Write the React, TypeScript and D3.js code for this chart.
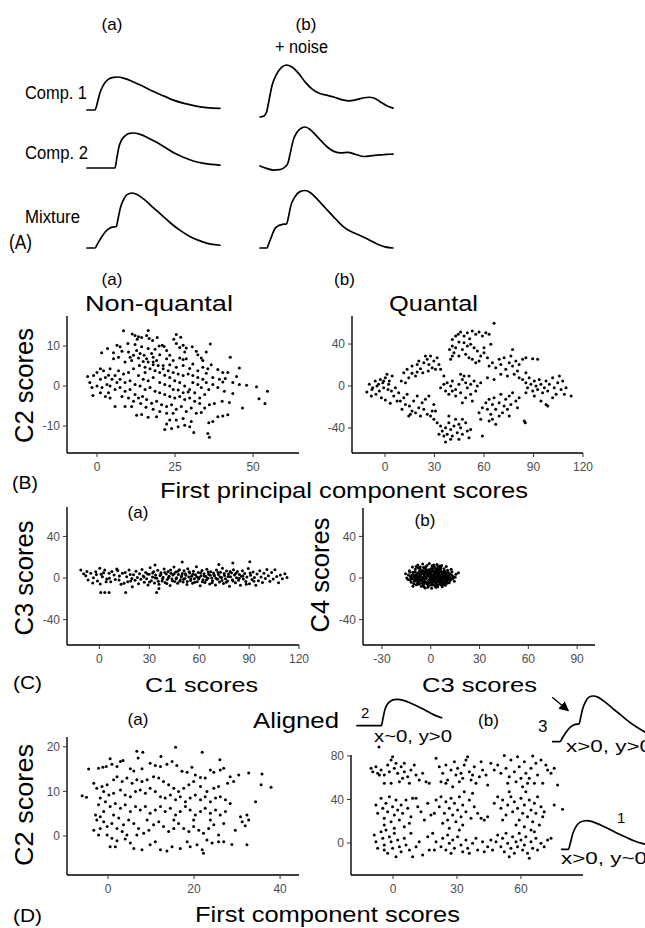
import React from 'react';
import * as d3 from 'd3';

type P = [number, number];
const parse = (s: string): P[] =>
  s.trim().split(/\s+/).map((p) => p.split(',').map(Number) as P);

// ---- Panel A traces: [time (% of window), normalised amplitude] ----
const comp1A: P[] = [[0,0],[6,0],[8,0.25],[10,0.55],[13,0.8],[16,0.93],[20,0.99],[23,1.0],[28,0.96],[35,0.85],[42,0.72],[50,0.56],[58,0.42],[65,0.3],[73,0.2],[82,0.12],[90,0.07],[100,0.05]];
const comp2A: P[] = [[0,0],[21,0],[22.5,0.3],[24,0.6],[26,0.8],[29,0.93],[32,0.99],[35,1.0],[40,0.96],[46,0.86],[53,0.72],[60,0.56],[66,0.42],[73,0.3],[80,0.2],[88,0.13],[100,0.08]];
const mixA: P[] = [[0,0],[6,0],[8,0.08],[11,0.2],[14,0.3],[17,0.36],[19,0.38],[22,0.39],[23.5,0.55],[25,0.72],[27.5,0.88],[30,0.97],[34,1.0],[38,0.97],[44,0.86],[50,0.73],[57,0.58],[63,0.45],[70,0.32],[78,0.2],[86,0.12],[93,0.07],[100,0.05]];
const comp1B: P[] = [[0,0],[3,0.02],[5,0.1],[7,0.35],[9,0.6],[12,0.8],[16,0.95],[20,1.0],[24,0.96],[29,0.84],[34,0.67],[39,0.54],[44,0.46],[50,0.42],[56,0.38],[62,0.33],[67,0.31],[72,0.33],[78,0.37],[82,0.38],[86,0.36],[90,0.3],[95,0.22],[100,0.17]];
const comp2B: P[] = [[0,0.05],[5,-0.01],[10,-0.05],[15,-0.04],[19,0.03],[21,0.12],[23,0.4],[25,0.68],[28,0.88],[31,0.97],[34,1.0],[38,0.93],[42,0.8],[46,0.66],[51,0.5],[56,0.4],[61,0.37],[66,0.38],[72,0.33],[78,0.28],[84,0.3],[90,0.32],[95,0.33],[100,0.34]];
const mixB: P[] = [[0,0],[5,0],[7,0.1],[9,0.22],[11,0.33],[14,0.39],[17,0.41],[20,0.42],[21.5,0.55],[23,0.72],[26,0.88],[30,0.98],[34,1.0],[38,0.96],[43,0.85],[49,0.7],[55,0.55],[60,0.43],[65,0.33],[70,0.27],[76,0.21],[82,0.14],[88,0.07],[94,0.02],[100,0]];

// ---- Scatter data ----
const nonQuantal = parse(`8.5,13.8 16.4,13.9 11.3,13.0 12.2,12.6 13.3,12.3 14.3,12.1 12.9,11.7 15.9,12.6 16.7,11.9 17.8,11.4 19.3,12.1 25.4,12.9 24.6,11.7 26.8,12.2 36.3,10.5 30.5,9.8 20.9,10.2 21.5,9.9 19.9,10.0 18.6,9.2 16.4,9.4 14.3,9.8 12.2,10.4 9.9,10.6 6.4,10.2 7.4,9.8 3.4,9.4 1.5,8.3 5.3,8.3 8.0,8.7 10.1,8.5 12.7,8.9 15.1,7.7 17.5,8.1 22.3,8.9 26.5,9.6 28.1,8.5 23.3,7.7 26.5,7.0 27.6,6.6 28.6,6.8 32.3,7.8 33.4,7.0 33.9,6.4 42.7,7.2 36.6,5.3 35.5,4.3 38.7,4.1 40.3,3.4 41.9,3.4 45.6,4.5 44.7,2.4 5.3,6.8 6.9,7.2 9.0,6.0 11.1,6.4 13.3,7.0 15.9,6.8 18.0,6.0 19.1,6.4 21.2,5.1 23.3,5.3 25.4,4.7 27.6,5.1 29.7,4.4 30.7,5.5 32.3,3.8 33.9,4.7 35.0,3.2 37.1,2.1 39.2,1.7 40.3,1.0 41.1,1.9 43.5,0.9 45.6,0.4 47.9,0.2 51.1,-0.2 54.6,-1.3 51.9,-3.2 53.8,-4.4 46.6,-5.5 42.4,-4.1 43.5,-1.9 40.1,-3.8 40.8,-1.3 38.7,-0.4 37.1,0.4 35.8,-0.9 34.5,-2.1 32.9,-3.0 31.3,-1.7 29.7,-0.9 28.1,0.0 26.5,0.9 24.9,1.3 23.3,2.1 21.7,2.7 20.1,3.4 18.6,3.8 17.0,4.3 15.4,4.7 13.6,5.1 11.7,4.3 10.1,3.4 8.5,3.0 6.9,3.8 4.2,4.3 2.1,3.8 1.1,4.3 0.0,3.4 -1.1,2.6 -3.0,2.4 -2.3,0.9 -1.6,-0.4 -1.3,-2.4 0.0,0.0 1.1,1.7 2.7,2.1 3.7,2.7 4.8,1.7 6.4,0.9 7.4,-0.4 9.0,-1.3 10.6,-0.9 12.2,-2.1 13.3,-3.0 14.6,-2.6 15.9,-3.4 17.5,-4.3 19.1,-3.8 20.7,-4.7 22.3,-5.1 23.9,-4.7 25.4,-5.8 27.0,-5.1 28.6,-6.4 30.2,-5.5 31.8,-6.8 33.4,-6.6 34.5,-5.5 36.0,-4.7 37.6,-4.4 38.7,-7.7 40.3,-7.5 41.9,-7.2 37.1,-8.9 35.8,-9.2 31.0,-11.6 35.5,-11.9 36.0,-12.8 29.7,-10.2 30.2,-8.9 28.1,-9.8 26.0,-10.2 23.9,-10.6 21.7,-10.9 22.3,-9.5 23.3,-8.5 25.4,-8.5 27.6,-8.1 19.1,-7.7 16.4,-7.8 14.3,-7.1 12.7,-7.3 11.1,-5.1 9.0,-5.1 5.8,-5.1 4.2,-3.0 2.7,-2.6 1.1,-1.7 3.7,-1.7 5.8,-0.9 8.0,-2.6 10.1,-3.0 11.7,-3.8 14.0,-4.4 15.7,-5.3 18.0,-5.8 20.1,-6.4 22.3,-6.8 24.4,-6.8 17.0,-0.4 18.6,-1.3 20.1,-1.7 21.7,-2.1 23.3,-2.6 24.9,-3.0 26.5,-2.6 28.1,-3.4 29.7,-3.0 31.3,-3.8 32.9,-4.4 20.1,0.9 21.7,0.4 23.3,0.0 24.4,-0.9 26.0,-1.0 27.6,-1.7 29.2,-1.5 30.7,0.9 32.3,0.4 33.4,-0.4 35.0,0.9 33.9,1.7 32.3,2.1 30.7,2.6 29.2,3.0 27.6,2.6 26.0,3.0 24.4,3.4 22.8,3.8 21.2,4.3 19.6,5.1 18.0,5.3 16.4,6.0 14.8,6.1 13.3,2.6 14.8,1.7 16.4,1.3 18.0,2.1 15.4,3.4 13.8,0.0 15.4,-0.9 12.2,0.4 10.6,1.3 9.0,0.9 7.4,1.7 5.8,2.6 3.2,0.4 1.6,-0.4 4.2,0.0 11.7,7.7 13.8,8.1 10.6,7.2 18.0,7.2 20.1,7.8 22.3,6.8 24.4,6.4 25.4,10.6 27.6,10.2 28.6,9.5 31.8,8.7 35.0,8.5`);

const quantal = parse(`-11.0,-5.7 -9.5,1.6 -7.5,-1.6 -5.9,4.8 -4.9,0 -2.8,6.3 -1.4,3.2 0.2,7.9 1.2,11.1 2.6,4.8 4.3,9.5 -8.3,-9.5 -5.5,-7.9 -3.4,-4.8 -0.8,-1.6 1.8,-3.2 3.9,-4.8 -2.2,-11.1 0.2,-13.3 6.3,-1.6 8.3,-6.3 5.3,-9.5 -7.9,-3.2 -3.9,1.6 -0.8,4.8 2.2,1.6 7.3,-14.3 3.2,-16.5
11.4,12.7 13.4,15.9 16.4,19.0 19.5,20.6 21.5,16.5 23.5,22.2 25.6,25.4 27.6,28.6 29.6,23.8 31.6,27.0 32.7,20.6 28.6,17.5 26.2,14.3 22.9,12.7 19.5,13.3 16.4,12.1 14.4,7.9 18.5,9.5 30.6,15.9 33.7,15.9 40.8,28.6 39.1,34.9 41.8,31.7 35.7,9.5 26.6,20.6 24.5,28.6 20.5,23.8 9.9,4.8 12.4,3.2
9.3,-14.3 11.4,-11.1 12.4,-17.5 14.8,-19.0 16.4,-23.8 15.4,-27.0 18.5,-25.4 20.5,-20.6 22.5,-15.9 23.5,-22.2 21.5,-28.6 24.5,-12.7 13.4,-7.9 17.4,-14.3 26.6,-9.5 19.5,-9.5 25.6,-27.0 28.6,-23.8 29.6,-17.5 14.4,-28.6 10.3,-22.2
40.8,44.4 42.8,47.6 44.4,49.2 45.8,51.4 47.9,47.6 49.9,50.8 51.3,45.1 52.9,52.4 55.0,49.2 57.0,51.4 59.0,47.6 61.1,50.8 63.1,49.2 66.1,59.7 47.9,41.3 49.9,38.1 51.9,39.7 54.0,36.5 56.0,33.3 58.0,28.6 60.0,31.7 40.8,38.1 42.8,36.5 44.8,41.9 46.9,34.9 48.9,30.2 50.9,27.0 52.9,25.4 55.0,22.2 57.0,23.8 60.0,36.5 64.1,39.7 62.1,27.0 39.8,25.4 44.8,28.6
33.7,-1.6 35.7,1.6 37.7,3.2 39.8,0 40.8,4.8 42.8,-3.2 44.8,1.6 46.9,6.3 48.9,3.2 49.9,-1.6 51.9,1.6 54.0,4.8 56.0,0 47.9,9.5 45.8,11.1 40.8,-4.8 38.7,-7.9 42.8,-9.5 45.8,-6.3 48.9,-11.1 51.9,-7.9 55.0,-4.8 36.7,-4.8 52.9,-14.3 46.9,-15.9 50.9,9.5 58.0,3.2
27.6,-28.6 29.6,-31.7 31.6,-34.9 33.7,-38.1 34.7,-42.9 36.7,-39.7 37.7,-46.0 38.7,-34.9 39.8,-41.3 40.8,-47.6 41.8,-38.1 42.8,-31.7 43.8,-44.4 44.8,-50.8 45.8,-39.7 46.9,-46.0 48.9,-34.9 49.9,-42.9 50.9,-49.2 51.9,-41.3 35.7,-47.6 32.7,-46.0 36.7,-53.3 39.8,-50.8 44.8,-36.5 46.9,-31.7 38.7,-28.6 30.6,-23.8 59.0,-47.6
63.1,19.0 65.1,22.2 67.1,17.5 69.2,25.4 70.2,20.6 72.2,27.0 73.2,15.9 75.3,22.2 76.3,28.6 77.3,19.0 79.3,23.8 80.3,14.3 81.3,20.6 83.4,25.4 85.4,27.0 89.5,26.0 92.5,25.4 78.3,11.1 74.2,9.5 70.2,11.1 66.1,6.3 62.1,7.9 77.3,34.9 85.4,12.7 81.3,7.9
57.0,-25.4 59.0,-20.6 61.1,-15.9 62.1,-22.2 63.1,-12.7 64.1,-27.0 65.1,-17.5 66.1,-11.1 67.1,-22.2 69.2,-15.9 70.2,-7.9 71.2,-25.4 72.2,-19.0 73.2,-12.7 74.2,-22.2 75.3,-9.5 76.3,-17.5 77.3,-6.3 79.3,-14.3 80.3,-20.6 81.3,-11.1 63.1,-33.3 65.1,-31.7 67.1,-36.5 58.0,-31.7 84.4,-33.3 85.0,-34.9 75.3,-28.6 69.2,-28.6
83.4,6.3 85.4,3.2 86.4,-1.6 87.4,7.9 88.4,1.6 89.5,-4.8 90.5,4.8 91.5,0 92.5,-3.2 93.5,6.3 94.5,1.6 95.5,-6.3 96.6,-1.6 97.6,4.8 98.6,-4.8 99.6,1.6 101.6,7.9 102.6,-1.6 103.7,-7.9 104.7,3.2 105.7,9.5 106.7,-3.2 107.7,4.8 109.7,-1.6 112.8,-9.5 108.7,-7.9 97.6,-17.5 98.6,-19.0 90.5,-9.5 85.4,-6.3 94.5,-14.3 101.6,-11.1`);

const c1Scores = parse(`-11.2,7.7 -8.2,2.3 -6.8,-1.9 -5.2,4.5 -3.6,0.3 -2.2,6.1 -1.2,-2.9 0.2,9.3 1.8,1.3 3.2,7.7 4.4,-1.0 5.8,4.5 6.8,-3.5 8.8,2.9 10.4,8.7 11.8,-1.9 13.8,4.5 14.8,-5.1 16.4,1.3 17.8,7.7 18.8,-2.9 19.8,-8.4 0.8,-13.8 3.2,-13.8 5.8,-13.8 15.8,-13.8 34.4,-13.8 35.8,-10.0 49.8,15.4 90.4,15.6 71.8,13.1 80.2,14.4 33.4,12.5
20.5,3.2 21.4,-2.1 22.0,6.5 22.8,0.4 23.5,-5.5 24.1,4.0 24.9,-1.2 25.6,8.1 26.3,2.0 27.0,-4.0 27.8,5.3 28.4,-0.6 29.2,-6.8 29.9,3.6 30.5,9.8 31.2,-2.5 31.9,1.1 32.6,6.0 33.1,-4.7 33.8,3.0
34.5,-0.2 35.1,7.4 35.8,-6.0 36.4,2.4 37.0,5.0 37.7,-2.8 38.3,0.8 38.9,8.6 39.5,-4.4 40.2,3.9 40.8,-1.5 41.3,6.2 41.9,1.6 42.5,-7.2 43.0,4.6 43.6,-0.9 44.2,2.8 44.8,10.5 45.3,-3.3 45.9,5.7 46.4,0.2 47.0,-5.1 47.5,3.4 48.1,7.9 48.6,-1.9 49.2,1.0 49.8,4.4 50.3,-3.9
50.9,6.9 51.4,-0.5 52.0,2.6 52.6,-6.2 53.1,9.0 53.7,0.9 54.3,4.8 54.8,-2.4 55.4,1.7 56.0,-5.0 56.5,6.4 57.1,-0.8 57.7,3.1 58.3,10.9 58.8,-3.6 59.4,5.3 60.0,0.5 60.6,-7.5 61.1,2.2 61.7,7.2 62.3,-1.6 62.9,4.1 63.4,-4.3 64.0,1.4 64.6,8.5 65.2,-0.3 65.7,3.7 66.3,-5.8 66.9,6.0 67.5,0.0 68.0,-2.7 68.6,4.9 69.2,1.9
69.8,-6.6 70.4,7.7 71.0,-1.1 71.6,3.3 72.2,-3.8 72.8,5.6 73.4,0.6 74.0,9.4 74.6,-5.3 75.2,2.5 75.8,-0.7 76.4,6.7 77.0,-2.9 77.6,3.9 78.2,-7.8 78.8,1.2 79.4,5.0 80.0,-1.7 80.6,8.0 81.2,2.9 81.8,-4.6 82.4,0.3 83.0,6.3 83.6,-2.2 84.2,3.5 84.8,-6.9 85.4,1.8
86.0,7.0 86.6,-0.9 87.3,4.3 88.0,-3.4 88.7,1.0 89.5,9.2 90.2,-5.6 90.9,2.7 91.7,-1.4 92.4,5.8 93.2,0.4 94.0,-7.0 94.8,3.8 95.6,-2.6 96.4,6.9 97.2,0.9 98.0,-4.2 98.9,4.6 99.8,-0.5 100.7,8.3 101.6,2.1 102.5,-3.2 103.5,5.2 104.5,-1.0 105.5,7.9 106.6,1.5 107.7,-4.5 108.8,3.0 110.0,-0.8 111.5,4.0 112.8,0.6
26.8,0.9 28.9,3.9 30.1,-3.8 32.0,4.9 33.5,0.2 35.4,-3.1 36.9,3.3 38.0,-0.8 39.3,5.4 40.5,-5.3 41.6,0.4 42.8,7.8 43.9,-2.6 44.9,4.1 46.1,-0.6 47.2,6.6 48.3,-3.0 49.5,2.3 50.6,-1.2 51.7,4.2 52.8,-3.3 53.9,6.1 55.0,-0.9 56.2,3.7 57.3,-4.1 58.5,1.3 59.6,-1.0 60.8,5.0 61.9,-3.6 63.1,2.0 64.3,-2.0 65.4,5.9 66.6,2.6 67.8,-4.6 68.9,3.2 70.1,-0.2 71.3,5.2 72.5,1.0 73.7,-2.3 75.0,4.4 76.2,-4.0 77.4,1.5 78.6,6.2 80.3,-2.9 82.1,4.7 84.0,-0.3 86.3,2.0 88.3,-5.9 90.6,4.9 92.9,-3.0
-9.5,4.0 -7.5,6.3 -4.0,-4.8 -1.8,3.4 0.5,-5.8 2.5,5.0 4.0,-3.5 7.5,6.2 9.5,-1.4 12.0,2.0 13.0,-6.0 15.5,5.4 17.0,-3.5 18.5,3.5 19.5,-0.5 11.0,7.2 6.0,-0.3 1.0,3.6`);

const c3Scores = parse(`-15.5,4.2 -14.0,-1.5 -13.2,7.0 -12.5,1.8 -12.0,-4.0 -11.3,10.5 -10.8,3.5 -10.2,-2.2 -9.6,6.0 -9.0,-6.5 -8.5,0.5 -8.0,12.5 -7.6,4.8 -7.1,-3.3 -6.6,8.5 -6.2,1.0 -5.8,-8.0 -5.3,5.5 -4.9,-1.0 -4.5,10.0 -4.0,3.0 -3.6,-5.0 -3.1,7.5 -2.7,-0.5 -2.3,12.0 -1.8,2.0 -1.4,-7.5 -1.0,5.0 -0.5,-2.5 0.0,9.0 0.4,0.5 0.9,-5.5 1.3,6.5 1.8,-1.0 2.2,11.0 2.7,3.5 3.1,-9.0 3.6,4.0 4.0,-3.0 4.5,8.0 4.9,1.5 5.4,-6.0 5.8,6.0 6.3,-0.8 6.7,12.0 7.2,2.5 7.6,-4.5 8.1,9.0 8.5,0.0 9.0,-7.0 9.4,5.0 9.9,-2.0 10.3,7.5 10.8,1.0 11.3,-4.5 11.8,4.0 12.4,-1.5 13.0,6.0 13.8,1.5 14.5,-3.0 15.5,3.5 17.0,5.0
-13.8,3.0 -11.6,-0.8 -9.8,2.2 -8.2,-4.8 -7.0,6.5 -5.5,-3.0 -4.2,1.2 -3.0,4.5 -2.0,-3.5 -0.8,1.5 0.3,-1.2 1.2,3.0 2.4,-3.8 3.5,1.0 4.6,-1.5 5.6,3.0 6.8,-2.5 8.0,4.5 9.2,-0.5 10.5,3.0 11.8,-2.5 -6.0,-1.8 -1.5,8.0 3.0,7.0 7.0,-8.5 -3.5,-9.5 0.5,-9.8 -9.5,8.5 12.5,8.5 -12.8,5.5 -10.5,-5.5 -6.8,3.2 -2.5,5.8 1.6,0.2 5.0,5.0 8.8,1.8 -4.6,-6.8 2.0,-6.5 6.0,9.5 -7.8,9.8 10.0,-5.0 -0.2,3.8 4.2,-8.5 -8.8,-1.5 13.5,-0.5 15.0,0.8 -14.8,0.0 3.8,13.0 -1.0,14.0 -5.0,13.5 9.5,11.0 -11.0,-8.0
-9.2,0.8 -8.6,4.0 -7.4,-1.2 -6.4,2.0 -5.7,6.8 -5.1,-5.2 -4.4,3.8 -3.8,-2.0 -3.3,9.2 -2.8,1.0 -2.1,-6.0 -1.6,4.2 -1.1,-1.8 -0.6,6.8 -0.1,-4.0 0.6,2.2 1.0,9.5 1.5,-3.0 2.0,4.8 2.5,-0.5 2.9,8.8 3.3,-5.2 3.9,2.0 4.3,10.5 4.8,-3.8 5.2,2.2 5.7,-2.0 6.1,7.2 6.5,0.8 7.0,-5.8 7.4,5.5 7.9,-1.0 8.3,7.0 8.7,-3.5 9.1,3.5 9.6,0.5 10.1,-2.8 10.6,5.5 11.1,1.8 -10.0,-3.0 -8.0,1.8 -6.0,5.0 -4.0,-3.8 -2.0,3.0 0.0,-6.8 2.0,1.5 4.0,5.8 6.0,-4.0 8.0,-6.5 -11.8,2.5 -12.8,-2.0 12.0,0.5 -9.0,11.0 0.8,11.8 -6.5,10.5 5.5,11.5
-8.3,-2.5 -7.2,0.2 -6.9,-5.5 -5.9,3.5 -5.0,0.2 -4.7,7.2 -3.9,5.8 -3.4,-0.8 -2.9,-4.2 -2.4,2.2 -1.9,6.2 -1.2,-4.8 -0.7,3.0 -0.3,-0.2 0.2,5.2 0.7,-2.2 1.1,7.8 1.4,-6.8 1.9,2.8 2.3,-2.0 2.8,6.0 3.2,-0.8 3.7,8.6 4.1,-6.8 4.6,3.2 5.1,-0.2 5.5,8.8 6.0,1.8 6.4,-6.5 6.9,4.2 7.3,-2.2 7.8,1.2 8.2,-5.0 8.7,5.8 9.3,-1.8 9.8,2.2 10.4,-1.0 10.9,4.0 -10.5,1.0 -9.8,-1.2 -9.0,3.2 -7.8,-6.0 -11.0,5.5 -12.2,0.5 11.5,-1.0 12.8,3.0 -4.2,-8.5 3.0,-8.0 -1.8,-9.0 6.2,10.8 -3.0,11.0 1.8,12.5`);

const alignedNQ = parse(`-6.0,9.0 -5.0,8.7 -4.5,15.0 -2.2,15.2 -1.2,15.4 -0.4,15.6 0.5,17.3 0.9,16.1 2.1,15.6 2.9,16.7 3.5,16.9 6.7,19.0 8.1,18.8 7.0,17.5 12.3,17.8 15.7,19.9 21.9,18.8 26.0,17.1 5.2,15.1 6.0,14.6 7.9,15.1 9.8,16.3 11.0,15.8 12.2,15.6 13.7,16.1 14.9,16.7 16.0,15.8 17.2,14.5 18.4,14.3 19.5,15.4 20.3,13.7 21.5,13.1 22.6,13.0 23.8,14.8 24.6,14.3 26.1,14.8 26.9,15.2 28.4,13.3 30.4,13.7 32.7,14.1 35.8,13.9 35.6,11.5 37.9,10.9 34.3,7.7 29.2,12.2 27.8,11.8 25.7,11.1 24.6,10.7 23.0,10.0 21.5,11.1 19.9,12.2 18.8,11.5 17.6,10.7 16.4,10.0 15.3,10.7 14.1,11.5 12.9,12.2 11.8,13.0 10.6,13.3 9.1,12.6 7.9,12.2 6.7,12.6 5.6,11.8 4.4,13.0 3.3,12.2 2.1,13.3 1.3,12.6 -0.2,11.5 -1.4,11.1 -2.6,10.7 -3.3,11.8 -1.0,10.0 0.2,9.2 1.3,9.6 2.9,10.3 4.0,9.2 5.2,8.8 6.4,10.0 7.5,10.3 8.7,9.6 9.8,10.7 11.0,10.0 12.2,8.8 13.3,8.5 14.5,9.2 15.7,8.1 16.8,8.8 18.0,7.7 19.1,8.5 20.3,9.2 21.5,8.1 22.6,8.8 23.8,7.7 25.0,8.5 26.1,8.8 27.3,8.1 28.4,7.3 -1.8,8.5 -2.2,7.0 -0.6,7.7 0.5,6.6 1.7,7.3 2.9,6.2 4.0,7.0 5.2,5.5 6.4,6.6 7.5,5.8 8.7,6.6 9.8,5.1 11.0,5.8 12.2,6.6 13.3,5.5 14.5,6.2 15.7,4.7 16.8,5.5 18.0,6.6 19.1,5.8 20.3,4.7 21.5,5.5 22.6,6.2 23.8,5.1 25.0,5.8 26.1,4.7 27.3,5.5 30.8,4.3 32.3,4.7 32.7,3.6 31.2,3.2 31.9,2.3 -2.9,4.7 -2.6,3.6 -1.8,4.3 -1.0,3.2 -0.2,2.1 0.9,2.8 2.1,1.7 3.3,1.0 4.4,0.2 3.6,2.5 4.8,3.6 6.0,2.8 7.1,1.7 8.3,0.6 9.5,1.3 10.6,2.5 11.8,3.2 12.9,2.1 14.1,1.0 15.3,1.7 16.4,2.8 17.6,1.7 18.8,1.0 19.9,2.1 21.1,1.3 22.2,0.6 23.4,1.7 24.6,2.5 25.7,0.2 26.9,-1.3 28.8,-1.9 32.3,-2.0 29.6,1.3 -0.2,0.2 0.9,-0.5 2.1,-1.1 4.0,-0.7 5.2,-1.6 6.7,0.2 7.9,-3.1 9.8,-2.0 11.0,-1.3 13.7,-3.4 14.9,-2.4 16.8,-2.8 18.4,-1.3 19.1,-2.4 20.7,-2.0 21.9,-3.1 22.2,-3.9 23.0,-0.9 24.2,-1.6 25.7,-1.3 1.7,-2.4 0.5,-2.4 6.0,-2.8 12.2,-3.1 -1.8,1.7 -3.3,1.3 -2.2,0.2 -1.0,5.5 1.3,4.7 2.5,4.0 9.1,3.6 15.3,3.6 19.9,3.6 23.8,3.6 26.9,2.8`);

const alignedQ = parse(`-10.3,68.7 -9.5,65.6 -8.0,70.2 -7.2,64.1 -5.6,67.2 -4.1,62.6 -2.5,71.8 -0.9,76.4 -0.2,79.4 0.6,68.7 1.4,73.3 2.2,64.1 3.8,70.2 4.5,59.5 5.3,65.6 6.9,61.0 8.4,67.2 10.0,71.8 10.8,62.6 12.3,58.0 13.9,64.1 15.5,56.4 17.0,54.9 -4.1,54.9 -0.9,54.9 3.0,56.4 7.7,54.9 -6.4,62.6 -1.7,65.6 5.3,73.3
20.2,77.9 21.7,70.2 23.3,64.1 24.8,71.8 25.6,58.0 27.2,67.2 28.8,74.8 29.5,62.6 30.3,68.7 31.1,56.4 31.9,64.1 33.4,71.8 34.2,76.4 35.0,79.4 35.8,65.6 36.6,58.0 38.1,70.2 38.9,54.9 40.5,61.0 42.0,67.2 43.6,62.6 44.4,53.4 45.9,73.3 24.8,54.9 28.0,51.8 22.5,56.4 32.7,59.5 37.3,62.6 41.3,74.8
47.5,67.2 49.1,71.8 50.6,64.1 52.2,80.5 53.0,68.7 54.5,61.0 55.3,76.4 56.9,65.6 57.7,56.4 58.4,79.4 59.2,70.2 60.0,59.5 61.6,74.8 62.3,64.1 63.1,54.9 64.7,68.7 65.5,80.0 67.0,73.3 67.8,62.6 69.4,76.4 70.2,54.9 71.7,71.8 72.5,67.2 74.1,64.1 75.6,68.7 77.2,53.4 63.9,59.5 53.8,54.9 60.8,51.8 66.3,54.9
-8.0,35.0 -7.2,27.3 -5.6,41.1 -4.8,31.9 -4.1,22.7 -3.3,36.5 -2.5,28.8 -1.7,42.6 -0.9,19.6 -0.2,33.4 0.6,25.8 1.4,39.6 2.2,30.4 3.0,21.2 3.8,35.0 4.5,27.3 5.3,15.0 6.1,39.6 6.9,31.9 8.4,24.2 9.2,41.1 10.8,41.1 11.6,33.4 13.1,28.8 14.7,21.2 16.3,36.5 -4.1,16.6 0.6,13.5 7.7,18.1 17.8,25.8
20.2,39.6 21.7,33.4 22.5,42.6 24.1,27.3 24.8,38.0 25.6,21.2 26.4,31.9 27.2,41.1 28.0,25.8 28.8,36.5 29.5,19.6 30.3,30.4 31.1,42.6 31.9,24.2 32.7,35.0 33.4,47.2 34.2,28.8 35.8,39.6 36.6,22.7 38.1,33.4 39.7,27.3 41.3,22.7 42.8,21.2 44.4,24.2 23.3,18.1 26.4,13.5 32.7,16.6 37.3,45.7 19.4,27.3
47.5,36.5 49.1,42.6 50.6,31.9 51.4,39.6 53.0,25.8 53.8,35.0 55.3,42.6 56.1,28.8 56.9,38.0 58.4,31.9 59.2,21.2 60.0,41.1 60.8,27.3 61.6,35.0 62.3,47.2 63.1,24.2 63.9,39.6 64.7,30.4 65.5,19.6 66.3,36.5 67.0,27.3 67.8,42.6 68.6,16.6 69.4,33.4 70.2,24.2 70.9,28.8 57.7,16.6 61.6,15.0 64.7,12.0 75.6,35.0 79.5,31.0 51.4,21.2 54.5,47.2
-8.8,7.4 -8.0,1.2 -7.2,-4.9 -5.6,10.4 -4.8,4.3 -4.1,-1.8 -3.3,12.0 -2.5,-9.5 -1.7,5.8 -0.9,1.2 -0.2,-4.9 0.6,8.9 1.4,-12.6 2.2,2.8 3.0,-3.4 3.8,-8.0 5.3,4.3 6.1,-1.8 7.7,-6.4 9.2,-12.6 10.8,-3.4 12.3,1.2 13.9,-11.0 16.3,5.8 17.0,-6.4 8.4,8.9 -4.1,-6.4
18.6,8.9 20.2,1.2 22.5,-3.4 23.3,4.3 24.8,-6.4 25.6,7.4 26.4,-0.3 27.2,-9.5 28.0,2.8 28.8,-4.9 30.3,5.8 31.9,-1.8 32.7,-8.0 34.2,2.8 35.0,-4.9 37.3,-0.3 38.9,4.3 39.7,-6.4 42.0,1.2 44.4,-3.4 45.9,2.8 19.4,-6.4 31.1,12.0 35.8,-9.5 42.8,-8.0
46.7,-6.4 48.3,1.2 49.1,7.4 50.6,-3.4 51.4,4.3 52.2,-8.0 53.0,8.9 53.8,-0.3 55.3,-4.9 56.1,5.8 56.9,-9.5 57.7,1.2 58.4,-3.4 59.2,8.9 60.0,2.8 60.8,-6.4 61.6,-1.8 62.3,5.8 63.1,-9.5 64.7,1.2 65.5,-4.9 67.0,4.3 67.8,-6.4 69.4,-0.3 70.9,-3.4 72.5,2.8 74.1,4.3 54.5,-12.6 63.9,-14.1 66.3,10.4
-6.6,88.3`);

// ---- Tick values ----
const baXTicks = [0, 25, 50];
const baYTicks = [-10, 0, 10];
const bbXTicks = [0, 30, 60, 90, 120];
const bbYTicks = [-40, 0, 40];
const caXTicks = [0, 30, 60, 90, 120];
const caYTicks = [-40, 0, 40];
const cbXTicks = [-30, 0, 30, 60, 90];
const cbYTicks = [-40, 0, 40];
const daXTicks = [0, 20, 40];
const daYTicks = [0, 10, 20];
const dbXTicks = [0, 30, 60];
const dbYTicks = [0, 40, 80];

const FONT = "'Liberation Sans', Arial, Helvetica, sans-serif";

function Label({ x, y, size, len, anchor = 'start', rot = 0, children }: any) {
  return (
    <text
      transform={`translate(${x},${y})${rot ? ` rotate(${rot})` : ''}`}
      fontSize={size}
      textAnchor={anchor}
      textLength={len}
      lengthAdjust={len ? 'spacingAndGlyphs' : undefined}
      fontFamily={FONT}
      fill="#000"
    >
      {children}
    </text>
  );
}

function Trace({ data, x0, x1, base, amp, tDomain = [0, 100], tMax = Infinity }: any) {
  const xs = d3.scaleLinear().domain(tDomain).range([x0, x1]);
  const ys = d3.scaleLinear().domain([0, 1]).range([base, base - amp]);
  const line = d3
    .line<P>()
    .x((d) => xs(d[0]))
    .y((d) => ys(d[1]))
    .curve(d3.curveMonotoneX);
  const pts = (data as P[]).filter((d) => d[0] <= tMax);
  return <path d={line(pts) || ''} fill="none" stroke="#000" strokeWidth={1.7} strokeLinejoin="round" strokeLinecap="round" />;
}

function Scatter({ pts, box, xd, yd, xt, yt }: any) {
  const x = d3.scaleLinear().domain(xd).range([box.l, box.r]);
  const y = d3.scaleLinear().domain(yd).range([box.b, box.t]);
  return (
    <g>
      {(pts as P[]).map(([a, b], i) => (
        <circle key={i} cx={x(a)} cy={y(b)} r={1.5} fill="#000" />
      ))}
      <line x1={box.l} x2={box.r} y1={box.b} y2={box.b} stroke="#000" strokeWidth={1.4} />
      <line x1={box.l} x2={box.l} y1={box.t} y2={box.b} stroke="#000" strokeWidth={1.4} />
      {(xt as number[]).map((t) => (
        <g key={'x' + t}>
          <line x1={x(t)} x2={x(t)} y1={box.b} y2={box.b + 4} stroke="#333" strokeWidth={1} />
          <text x={x(t)} y={box.b + 18} textAnchor="middle" fontSize={12} fontFamily={FONT} fill="#4d4d4d">
            {t}
          </text>
        </g>
      ))}
      {(yt as number[]).map((t) => (
        <g key={'y' + t}>
          <line x1={box.l - 4} x2={box.l} y1={y(t)} y2={y(t)} stroke="#333" strokeWidth={1} />
          <text x={box.l - 7} y={y(t) + 4.3} textAnchor="end" fontSize={12} fontFamily={FONT} fill="#4d4d4d">
            {t}
          </text>
        </g>
      ))}
    </g>
  );
}

export default function App() {
  return (
    <svg width={645} height={928} style={{ position: 'absolute', left: 0, top: 0, background: '#fff' }}>
      <defs>
        <marker id="ah" viewBox="0 0 10 10" refX={9} refY={5} markerWidth={7} markerHeight={7} orient="auto">
          <path d="M0,0L10,5L0,10z" fill="#000" />
        </marker>
      </defs>
      <rect x={0} y={0} width={645} height={928} fill="#fff" />

      {/* Panel A */}
      <Label x={112} y={29.5} size={17} anchor="middle">(a)</Label>
      <Label x={306} y={29.5} size={17} anchor="middle">(b)</Label>
      <Label x={275} y={53} size={18} len={53}>+ noise</Label>
      <Label x={25} y={99} size={18.5} len={62}>Comp. 1</Label>
      <Label x={25} y={159} size={18.5} len={63}>Comp. 2</Label>
      <Label x={25} y={222.5} size={18} len={55}>Mixture</Label>
      <Label x={9} y={249} size={20} len={23}>(A)</Label>
      <Trace data={comp1A} x0={87} x1={220} base={110} amp={33} />
      <Trace data={comp2A} x0={87} x1={220} base={168} amp={35} />
      <Trace data={mixA} x0={87} x1={220} base={248} amp={55} />
      <Trace data={comp1B} x0={260} x1={393} base={117} amp={52} />
      <Trace data={comp2B} x0={260} x1={393} base={168} amp={41} />
      <Trace data={mixB} x0={260} x1={393} base={248} amp={57.5} />

      {/* Panel B */}
      <Label x={112} y={285} size={17} anchor="middle">(a)</Label>
      <Label x={344.5} y={285} size={17} anchor="middle">(b)</Label>
      <Label x={85} y={310.5} size={22} len={148}>Non-quantal</Label>
      <Label x={389} y={310.5} size={22} len={89}>Quantal</Label>
      <Label x={33} y={385.5} size={26} len={115} anchor="middle" rot={-90}>C2 scores</Label>
      <Scatter pts={nonQuantal} box={{ l: 67, r: 299, t: 316, b: 453 }} xd={[-9.6, 64.7]} yd={[-16.75, 17.5]} xt={baXTicks} yt={baYTicks} />
      <Scatter pts={quantal} box={{ l: 352, r: 583, t: 316, b: 453 }} xd={[-20, 120]} yd={[-63.8, 66.7]} xt={bbXTicks} yt={bbYTicks} />
      <Label x={12} y={489} size={18} len={26}>(B)</Label>
      <Label x={160} y={498} size={22} len={368}>First principal component scores</Label>

      {/* Panel C */}
      <Label x={138} y={518} size={17} anchor="middle">(a)</Label>
      <Label x={425} y={526} size={17} anchor="middle">(b)</Label>
      <Label x={33} y={578} size={26} len={115} anchor="middle" rot={-90}>C3 scores</Label>
      <Label x={329} y={575} size={26} len={115} anchor="middle" rot={-90}>C4 scores</Label>
      <Scatter pts={c1Scores} box={{ l: 67, r: 299, t: 507, b: 645 }} xd={[-19.5, 120]} yd={[-64.4, 68.3]} xt={caXTicks} yt={caYTicks} />
      <Scatter pts={c3Scores} box={{ l: 363, r: 595, t: 508, b: 645 }} xd={[-41.7, 101]} yd={[-64.4, 67.3]} xt={cbXTicks} yt={cbYTicks} />
      <Label x={13} y={689} size={18} len={29}>(C)</Label>
      <Label x={145} y={692} size={21} len={113}>C1 scores</Label>
      <Label x={422} y={692} size={21} len={115}>C3 scores</Label>

      {/* Panel D */}
      <Label x={138} y={725} size={17} anchor="middle">(a)</Label>
      <Label x={253} y={728} size={22} len={86}>Aligned</Label>
      <Label x={361} y={718} size={15}>2</Label>
      <Trace data={comp2A} x0={357} x1={444} base={725.7} amp={26.4} tDomain={[0, 75]} tMax={75} />
      <Label x={374} y={742} size={17} len={78}>x~0, y&gt;0</Label>
      <Label x={488.5} y={726} size={17} anchor="middle">(b)</Label>
      <Label x={538} y={732} size={17}>3</Label>
      <line x1={552.3} y1={697.3} x2={568.3} y2={710.7} stroke="#000" strokeWidth={1.4} markerEnd="url(#ah)" />
      <Trace data={mixA} x0={552.7} x1={645} base={741.7} amp={45.7} tDomain={[0, 77]} />
      <Label x={566} y={751.5} size={17} len={86}>x&gt;0, y&gt;0</Label>
      <Label x={617} y={823} size={15}>1</Label>
      <Trace data={comp1A} x0={561.7} x1={645} base={849.3} amp={28.6} tDomain={[0, 75]} />
      <Label x={561} y={863.5} size={17} len={86}>x&gt;0, y~0</Label>
      <Label x={33} y={805} size={26} len={122} anchor="middle" rot={-90}>C2 scores</Label>
      <Scatter pts={alignedNQ} box={{ l: 67, r: 299, t: 737, b: 875 }} xd={[-9.53, 44.4]} yd={[-8.76, 22.2]} xt={daXTicks} yt={daYTicks} />
      <Scatter pts={alignedQ} box={{ l: 351, r: 583, t: 755, b: 875 }} xd={[-19.7, 89.1]} yd={[-29.4, 80.9]} xt={dbXTicks} yt={dbYTicks} />
      <Label x={13} y={922} size={18} len={29}>(D)</Label>
      <Label x={195} y={922} size={22} len={265}>First component scores</Label>
    </svg>
  );
}
